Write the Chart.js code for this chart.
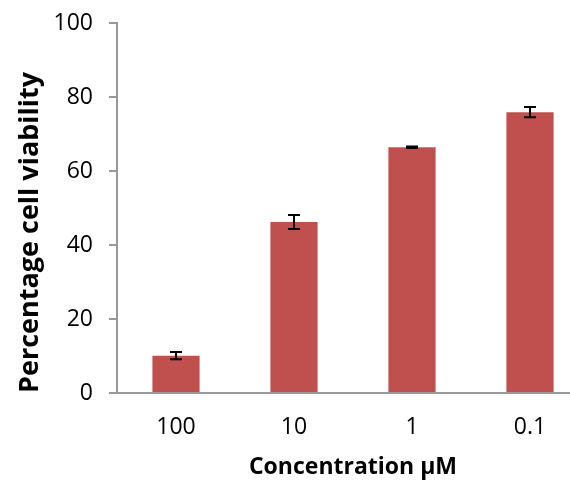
<!DOCTYPE html>
<html>
<head>
<meta charset="utf-8">
<script src="https://cdn.jsdelivr.net/npm/chart.js@4.4.1/dist/chart.umd.min.js"></script>
<style>
  html, body { margin: 0; padding: 0; background: #fff; overflow: hidden; }
  #wrap { width: 589px; height: 483px; }
</style>
</head>
<body>
<div id="wrap"><canvas id="barChart"></canvas></div>
<script>
// concentrations (x categories)
var concentrations = ['100', '10', '1', '0.1'];
// mean % viability
var viability = [10.1, 46.2, 66.4, 75.9];
// error (+/-)
var viabilityErr = [1.0, 1.9, 0.2, 1.4];
var yTicks = [0, 20, 40, 60, 80, 100];

var axisGray = '#999999';

// simple error bar plugin
var errorBars = {
    id: 'errorBars',
    afterDatasetsDraw: function (chart) {
        var ctx = chart.ctx;
        var meta = chart.getDatasetMeta(0);
        var yScale = chart.scales.y;
        ctx.save();
        ctx.strokeStyle = '#000';
        ctx.lineWidth = 2;
        meta.data.forEach(function (bar, i) {
            var v = viability[i], e = viabilityErr[i];
            var yTop = yScale.getPixelForValue(v + e);
            var yBot = yScale.getPixelForValue(v - e);
            var x = bar.x, cap = 6;
            ctx.beginPath();
            ctx.moveTo(x, yTop); ctx.lineTo(x, yBot);
            ctx.moveTo(x - cap, yTop); ctx.lineTo(x + cap, yTop);
            ctx.moveTo(x - cap, yBot); ctx.lineTo(x + cap, yBot);
            ctx.stroke();
        });
        ctx.restore();
    }
};

new Chart(document.getElementById('barChart'), {
    type: 'bar',
    data: {
        labels: concentrations,
        datasets: [{
            data: viability,
            backgroundColor: '#C0504D',
            borderWidth: 0,
            barPercentage: 0.4,
            categoryPercentage: 1
        }]
    },
    options: {
        responsive: true,
        maintainAspectRatio: false,
        animation: false,
        layout: { padding: { top: 23, left: 0, right: 0, bottom: 0 } },
        plugins: {
            legend: { display: false },
            tooltip: { enabled: false }
        },
        scales: {
            x: {
                afterFit: function (axis) {
                    axis.height = 90;
                    axis.paddingLeft = 0;
                    axis.paddingRight = 0;
                },
                grid: { display: false },
                border: { display: true, color: axisGray, width: 2 },
                ticks: { color: '#000', padding: 13, font: { family: 'Open Sans', size: 23 } },
                title: {
                    display: true,
                    text: 'Concentration µM',
                    color: '#000',
                    font: { family: 'Open Sans', size: 23, weight: 'bold' },
                    padding: { top: 0, bottom: 2 }
                }
            },
            y: {
                min: 0,
                max: 100,
                afterFit: function (axis) {
                    axis.width = 117;
                    axis.paddingTop = 0;
                    axis.paddingBottom = 0;
                },
                afterBuildTicks: function (axis) {
                    axis.ticks = yTicks.map(function (v) { return { value: v }; });
                },
                grid: { drawOnChartArea: false, drawTicks: true, tickLength: 8, color: axisGray, lineWidth: 2 },
                border: { display: true, color: axisGray, width: 2 },
                ticks: { color: '#000', padding: 16, font: { family: 'Open Sans', size: 23 } },
                title: {
                    display: true,
                    align: 'start',
                    text: 'Percentage cell viability',
                    color: '#000',
                    font: { family: 'Open Sans', size: 27, weight: 'bold' },
                    padding: { top: 14, bottom: 0 }
                }
            }
        }
    },
    plugins: [errorBars]
});
</script>
</body>
</html>
